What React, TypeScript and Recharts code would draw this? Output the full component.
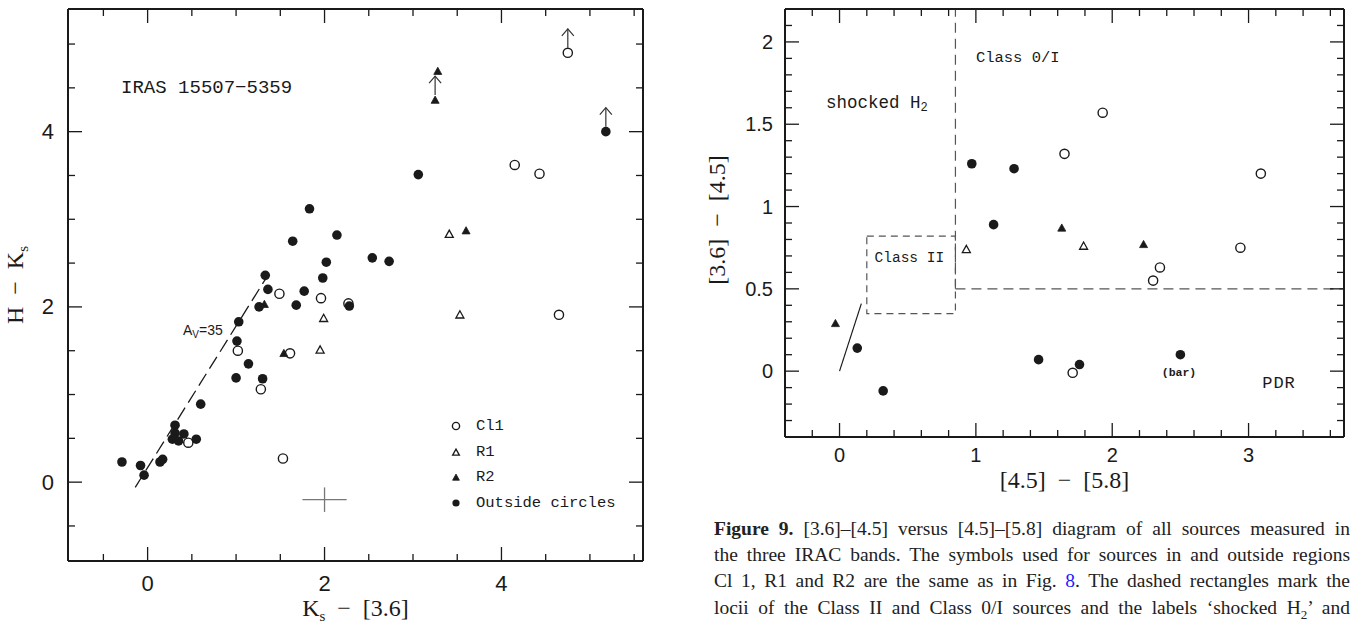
import React from 'react';
import {
  ScatterChart,
  Scatter,
  XAxis,
  YAxis,
  ReferenceLine,
  ReferenceArea,
  ReferenceDot,
  Legend,
} from 'recharts';

type Pt = [number, number];

// ---- left panel: H - Ks vs Ks - [3.6]
const nirCl1: Pt[] = [
  [4.75, 4.9], [4.15, 3.62], [4.43, 3.52], [4.65, 1.91], [1.49, 2.15], [1.96, 2.1],
  [2.27, 2.04], [1.02, 1.5], [1.61, 1.47], [1.28, 1.06], [0.46, 0.45], [1.53, 0.27],
];
const nirR1: Pt[] = [[3.41, 2.83], [1.99, 1.87], [3.53, 1.91], [1.95, 1.51]];
const nirR2: Pt[] = [[3.28, 4.69], [3.25, 4.36], [3.6, 2.87], [1.32, 2.03], [1.54, 1.47]];
const nirOutside: Pt[] = [
  [5.18, 4.0], [3.06, 3.51], [1.83, 3.12], [2.14, 2.82], [1.64, 2.75], [2.54, 2.56],
  [2.73, 2.52], [2.02, 2.51], [1.98, 2.33], [1.33, 2.36], [1.36, 2.2], [1.77, 2.18],
  [1.68, 2.02], [2.28, 2.01], [1.26, 2.0], [1.03, 1.83], [1.01, 1.61], [1.14, 1.35],
  [1.0, 1.19], [1.3, 1.18], [0.6, 0.89], [0.31, 0.65], [0.31, 0.56], [0.41, 0.55],
  [0.28, 0.49], [0.35, 0.47], [0.55, 0.49], [-0.29, 0.23], [-0.08, 0.19], [-0.04, 0.08],
  [0.14, 0.23], [0.17, 0.26],
];
// lower limits in H - Ks (drawn with an up arrow)
const nirLimits: Pt[] = [[4.75, 4.9], [3.25, 4.36], [5.18, 4.0]];
const nirAvLine: Pt[] = [[-0.14, -0.06], [1.34, 2.33]];
const nirErrX: Pt[] = [[1.75, -0.2], [2.25, -0.2]];
const nirErrY: Pt[] = [[2.0, -0.34], [2.0, -0.06]];
const nirLegend = ['Cl1', 'R1', 'R2', 'Outside circles'];

const nirXTicks = [-0.5, 0, 0.5, 1, 1.5, 2, 2.5, 3, 3.5, 4, 4.5, 5, 5.5];
const nirXLabels = [0, 2, 4];
const nirYTicks = [-0.5, 0, 0.5, 1, 1.5, 2, 2.5, 3, 3.5, 4, 4.5, 5];
const nirYLabels = [0, 2, 4];

// ---- right panel: [3.6] - [4.5] vs [4.5] - [5.8]
const iracCl1: Pt[] = [
  [1.93, 1.57], [1.65, 1.32], [3.09, 1.2], [2.94, 0.75], [2.35, 0.63], [2.3, 0.55], [1.71, -0.01],
];
const iracR1: Pt[] = [[0.93, 0.74], [1.79, 0.76]];
const iracR2: Pt[] = [[1.63, 0.87], [2.23, 0.77], [-0.03, 0.29]];
const iracOutside: Pt[] = [
  [0.97, 1.26], [1.28, 1.23], [1.13, 0.89], [0.13, 0.14], [0.32, -0.12], [1.46, 0.07],
  [1.76, 0.04], [2.5, 0.1],
];
const iracRedVector: Pt[] = [[0, 0], [0.16, 0.41]];
const classIIx = [0.2, 0.85];
const classIIy = [0.35, 0.82];
const class0Vert: Pt[] = [[0.85, 0.5], [0.85, 2.2]];
const class0Horiz: Pt[] = [[0.85, 0.5], [3.7, 0.5]];

const iracXTicks = [-0.2, 0, 0.2, 0.4, 0.6, 0.8, 1, 1.2, 1.4, 1.6, 1.8, 2, 2.2, 2.4, 2.6, 2.8, 3, 3.2, 3.4, 3.6];
const iracXLabels = [0, 1, 2, 3];
const iracYTicks = [
  -0.3, -0.2, -0.1, 0, 0.1, 0.2, 0.3, 0.4, 0.5, 0.6, 0.7, 0.8, 0.9, 1, 1.1, 1.2, 1.3, 1.4,
  1.5, 1.6, 1.7, 1.8, 1.9, 2, 2.1,
];
const iracYLabels = [0, 0.5, 1, 1.5, 2];

const INK = '#1a1a1a';
const NUM_FONT = '"Liberation Sans", Arial, sans-serif';
const SERIF = '"Liberation Serif", "Times New Roman", serif';
const MONO = '"Liberation Mono", "Courier New", monospace';

const pts = (a: Pt[]) => a.map(([x, y]) => ({ x, y }));

const OpenCircle = ({ cx, cy, r = 4.6 }: any) => (
  <circle cx={cx} cy={cy} r={r} fill="none" stroke={INK} strokeWidth={1.4} />
);
const FilledCircle = ({ cx, cy, r = 4.8 }: any) => <circle cx={cx} cy={cy} r={r} fill={INK} />;
const Tri = ({ cx, cy, filled, s = 4 }: any) => (
  <polygon
    points={`${cx},${cy - s} ${cx - s},${cy + s * 0.8} ${cx + s},${cy + s * 0.8}`}
    fill={filled ? INK : 'none'}
    stroke={INK}
    strokeWidth={filled ? 0.8 : 1.3}
    strokeLinejoin="miter"
  />
);
const UpArrow = ({ cx, cy }: any) => {
  const top = cy - 24;
  return (
    <g stroke="#333" strokeWidth={1.2} fill="none">
      <line x1={cx} y1={cy - 5} x2={cx} y2={top} />
      <polyline points={`${cx - 6},${top + 7} ${cx},${top} ${cx + 6},${top + 7}`} />
    </g>
  );
};

// ticks point into the plot; only bottom/left carry numbers
function frameTick(side: string, labels: number[], fontSize: number, gap: number) {
  return (p: any) => {
    const { x, y, payload } = p;
    const v = payload.value as number;
    const major = labels.some((l) => Math.abs(l - v) < 1e-6);
    const len = major ? 14 : 7;
    const dx = side === 'left' ? len : side === 'right' ? -len : 0;
    const dy = side === 'bottom' ? -len : side === 'top' ? len : 0;
    return (
      <g>
        <line x1={x} y1={y} x2={x + dx} y2={y + dy} stroke={INK} strokeWidth={1.3} />
        {major && side === 'bottom' && (
          <text x={x} y={y + gap} textAnchor="middle" dominantBaseline="central" fontSize={fontSize} fontFamily={NUM_FONT} fill={INK}>
            {String(v)}
          </text>
        )}
        {major && side === 'left' && (
          <text x={x - gap} y={y} textAnchor="end" dominantBaseline="central" fontSize={fontSize} fontFamily={NUM_FONT} fill={INK}>
            {String(v)}
          </text>
        )}
      </g>
    );
  };
}

const frameLine = { stroke: INK, strokeWidth: 2 };

const note = (content: React.ReactNode, size: number, family: string, anchor = 'start', extra: any = {}) =>
  (p: any) => (
    <text
      x={p.viewBox.x}
      y={p.viewBox.y}
      textAnchor={anchor}
      dominantBaseline="central"
      fontSize={size}
      fontFamily={family}
      fill={INK}
      {...extra}
    >
      {content}
    </text>
  );

function NirChart() {
  const ax = { xAxisId: 'b', yAxisId: 'l' };
  return (
    <ScatterChart width={680} height={625} margin={{ top: 8, right: 36, left: 0, bottom: 0 }}>
      <XAxis
        xAxisId="b" type="number" dataKey="x" domain={[-0.9, 5.6]} allowDataOverflow
        ticks={nirXTicks} interval={0} height={64} tickSize={0} tickMargin={0} tickLine={false}
        axisLine={frameLine} tick={frameTick('bottom', nirXLabels, 22, 22)}
        label={{
          content: (p: any) => (
            <text x={p.viewBox.x + p.viewBox.width / 2} y={p.viewBox.y + 55} textAnchor="middle" fontSize={24} fontFamily={SERIF} fill={INK} style={{ whiteSpace: 'pre' }}>
              K<tspan dy={5} fontSize={15}>s</tspan><tspan dy={-5}>{'  \u2212  [3.6]'}</tspan>
            </text>
          ),
        }}
      />
      <XAxis
        xAxisId="t" orientation="top" type="number" dataKey="x" domain={[-0.9, 5.6]} allowDataOverflow
        ticks={nirXTicks} interval={0} height={1} tickSize={0} tickMargin={0} tickLine={false}
        axisLine={frameLine} tick={frameTick('top', nirXLabels, 22, 22)}
      />
      <YAxis
        yAxisId="l" type="number" dataKey="y" domain={[-0.9, 5.4]} allowDataOverflow
        ticks={nirYTicks} interval={0} width={68} tickSize={0} tickMargin={0} tickLine={false}
        axisLine={frameLine} tick={frameTick('left', nirYLabels, 22, 14)}
        label={{
          content: (p: any) => {
            const x = p.viewBox.x + 23;
            const y = p.viewBox.y + p.viewBox.height / 2;
            return (
              <text x={x} y={y} transform={`rotate(-90 ${x} ${y})`} textAnchor="middle" fontSize={24} fontFamily={SERIF} fill={INK} style={{ whiteSpace: 'pre' }}>
                {'H  \u2212  K'}<tspan dy={5} fontSize={15}>s</tspan>
              </text>
            );
          },
        }}
      />
      <YAxis
        yAxisId="r" orientation="right" type="number" dataKey="y" domain={[-0.9, 5.4]} allowDataOverflow
        ticks={nirYTicks} interval={0} width={1} tickSize={0} tickMargin={0} tickLine={false}
        axisLine={frameLine} tick={frameTick('right', nirYLabels, 22, 14)}
      />

      <ReferenceLine {...ax} segment={pts(nirAvLine)} stroke={INK} strokeWidth={1.3} strokeDasharray="14 6" ifOverflow="visible" />
      <ReferenceLine {...ax} segment={pts(nirErrX)} stroke="#777" strokeWidth={1.3} ifOverflow="visible" />
      <ReferenceLine {...ax} segment={pts(nirErrY)} stroke="#777" strokeWidth={1.3} ifOverflow="visible" />

      <ReferenceDot {...ax} x={-0.3} y={4.5} r={0} fill="none" stroke="none"
        label={note('IRAS 15507\u22125359', 19, MONO)} />
      <ReferenceDot {...ax} x={0.4} y={1.74} r={0} fill="none" stroke="none"
        label={note(<>A<tspan dy={4} fontSize={10}>V</tspan><tspan dy={-4}>=35</tspan></>, 14, NUM_FONT)} />

      <Scatter {...ax} name="limits" data={pts(nirLimits)} isAnimationActive={false}
        shape={(p: any) => <UpArrow cx={p.cx} cy={p.cy} />} />
      <Scatter {...ax} name="Cl1" data={pts(nirCl1)} isAnimationActive={false}
        shape={(p: any) => <OpenCircle cx={p.cx} cy={p.cy} />} />
      <Scatter {...ax} name="R1" data={pts(nirR1)} isAnimationActive={false}
        shape={(p: any) => <Tri cx={p.cx} cy={p.cy} />} />
      <Scatter {...ax} name="R2" data={pts(nirR2)} isAnimationActive={false}
        shape={(p: any) => <Tri cx={p.cx} cy={p.cy} filled />} />
      <Scatter {...ax} name="Outside circles" data={pts(nirOutside)} isAnimationActive={false}
        shape={(p: any) => <FilledCircle cx={p.cx} cy={p.cy} />} />

      <Legend
        layout="vertical" align="center" verticalAlign="middle"
        wrapperStyle={{ left: 446, top: 413, width: 220, height: 104 }}
        content={() => (
          <div style={{ font: `15.5px ${MONO}`, color: INK }}>
            {nirLegend.map((name, i) => (
              <div key={name} style={{ display: 'flex', alignItems: 'center', height: 25.7 }}>
                <svg width={20} height={20} style={{ display: 'block' }}>
                  {i === 0 && <OpenCircle cx={10} cy={10} r={3.6} />}
                  {i === 1 && <Tri cx={10} cy={10.5} s={3.4} />}
                  {i === 2 && <Tri cx={10} cy={10.5} s={3.4} filled />}
                  {i === 3 && <FilledCircle cx={10} cy={10} r={3.6} />}
                </svg>
                <span style={{ marginLeft: 10 }}>{name}</span>
              </div>
            ))}
          </div>
        )}
      />
    </ScatterChart>
  );
}

function IracChart() {
  const ax = { xAxisId: 'b', yAxisId: 'l' };
  const dash = '#555';
  return (
    <ScatterChart width={663} height={500} margin={{ top: 8, right: 18, left: 0, bottom: 0 }}>
      <XAxis
        xAxisId="b" type="number" dataKey="x" domain={[-0.4, 3.7]} allowDataOverflow
        ticks={iracXTicks} interval={0} height={63} tickSize={0} tickMargin={0} tickLine={false}
        axisLine={frameLine} tick={frameTick('bottom', iracXLabels, 20, 18)}
        label={{
          content: (p: any) => (
            <text x={p.viewBox.x + p.viewBox.width / 2} y={p.viewBox.y + 51} textAnchor="middle" fontSize={24} fontFamily={SERIF} fill={INK} style={{ whiteSpace: 'pre' }}>
              {'[4.5]  \u2212  [5.8]'}
            </text>
          ),
        }}
      />
      <XAxis
        xAxisId="t" orientation="top" type="number" dataKey="x" domain={[-0.4, 3.7]} allowDataOverflow
        ticks={iracXTicks} interval={0} height={1} tickSize={0} tickMargin={0} tickLine={false}
        axisLine={frameLine} tick={frameTick('top', iracXLabels, 20, 18)}
      />
      <YAxis
        yAxisId="l" type="number" dataKey="y" domain={[-0.4, 2.2]} allowDataOverflow
        ticks={iracYTicks} interval={0} width={85} tickSize={0} tickMargin={0} tickLine={false}
        axisLine={frameLine} tick={frameTick('left', iracYLabels, 20, 12)}
        label={{
          content: (p: any) => {
            const x = p.viewBox.x + 25;
            const y = p.viewBox.y + p.viewBox.height / 2 - 3;
            return (
              <text x={x} y={y} transform={`rotate(-90 ${x} ${y})`} textAnchor="middle" fontSize={24} fontFamily={SERIF} fill={INK} style={{ whiteSpace: 'pre' }}>
                {'[3.6]  \u2212  [4.5]'}
              </text>
            );
          },
        }}
      />
      <YAxis
        yAxisId="r" orientation="right" type="number" dataKey="y" domain={[-0.4, 2.2]} allowDataOverflow
        ticks={iracYTicks} interval={0} width={1} tickSize={0} tickMargin={0} tickLine={false}
        axisLine={frameLine} tick={frameTick('right', iracYLabels, 20, 12)}
      />

      <ReferenceArea {...ax} x1={classIIx[0]} x2={classIIx[1]} y1={classIIy[0]} y2={classIIy[1]}
        fill="none" fillOpacity={0} stroke={dash} strokeWidth={1.2} strokeDasharray="7 5" ifOverflow="visible" />
      <ReferenceLine {...ax} segment={pts(class0Vert)} stroke={dash} strokeWidth={1.2} strokeDasharray="10 6" ifOverflow="visible" />
      <ReferenceLine {...ax} segment={pts(class0Horiz)} stroke={dash} strokeWidth={1.2} strokeDasharray="10 6" ifOverflow="visible" />
      <ReferenceLine {...ax} segment={pts(iracRedVector)} stroke={INK} strokeWidth={1.2} ifOverflow="visible" />

      <ReferenceDot {...ax} x={1.0} y={1.9} r={0} fill="none" stroke="none" label={note('Class 0/I', 15.5, MONO)} />
      <ReferenceDot {...ax} x={-0.1} y={1.63} r={0} fill="none" stroke="none"
        label={note(<>shocked H<tspan dy={5} fontSize={12}>2</tspan></>, 17.5, MONO)} />
      <ReferenceDot {...ax} x={0.257} y={0.687} r={0} fill="none" stroke="none" label={note('Class II', 14.5, MONO)} />
      <ReferenceDot {...ax} x={2.49} y={-0.01} r={0} fill="none" stroke="none"
        label={note('(bar)', 11.5, MONO, 'middle', { fontWeight: 600 })} />
      <ReferenceDot {...ax} x={3.1} y={-0.075} r={0} fill="none" stroke="none"
        label={note('PDR', 17, MONO, 'start', { letterSpacing: 1 })} />

      <Scatter {...ax} name="Cl1" data={pts(iracCl1)} isAnimationActive={false}
        shape={(p: any) => <OpenCircle cx={p.cx} cy={p.cy} />} />
      <Scatter {...ax} name="R1" data={pts(iracR1)} isAnimationActive={false}
        shape={(p: any) => <Tri cx={p.cx} cy={p.cy} />} />
      <Scatter {...ax} name="R2" data={pts(iracR2)} isAnimationActive={false}
        shape={(p: any) => <Tri cx={p.cx} cy={p.cy} filled />} />
      <Scatter {...ax} name="Outside circles" data={pts(iracOutside)} isAnimationActive={false}
        shape={(p: any) => <FilledCircle cx={p.cx} cy={p.cy} />} />
    </ScatterChart>
  );
}

const lineStyle: React.CSSProperties = { textAlign: 'justify', textAlignLast: 'justify', whiteSpace: 'nowrap' };

function Caption() {
  return (
    <div
      style={{
        position: 'absolute', left: 714, top: 516, width: 636,
        font: `19.5px ${SERIF}`, lineHeight: '26.2px', color: '#222',
      }}
    >
      <div style={lineStyle}><b>Figure 9.</b> [3.6]–[4.5] versus [4.5]–[5.8] diagram of all sources measured in</div>
      <div style={lineStyle}>the three IRAC bands. The symbols used for sources in and outside regions</div>
      <div style={lineStyle}>Cl 1, R1 and R2 are the same as in Fig. <span style={{ color: '#1a1aff' }}>8</span>. The dashed rectangles mark the</div>
      <div style={lineStyle}>locii of the Class II and Class 0/I sources and the labels ‘shocked H<sub style={{ fontSize: 13, lineHeight: 0 }}>2</sub>’ and</div>
    </div>
  );
}

export default function App() {
  return (
    <div style={{ position: 'absolute', left: 0, top: 0, width: 1363, height: 625, background: '#fff', overflow: 'hidden' }}>
      <div style={{ position: 'absolute', left: 0, top: 0 }}>
        <NirChart />
      </div>
      <div style={{ position: 'absolute', left: 700, top: 0 }}>
        <IracChart />
      </div>
      <Caption />
    </div>
  );
}
